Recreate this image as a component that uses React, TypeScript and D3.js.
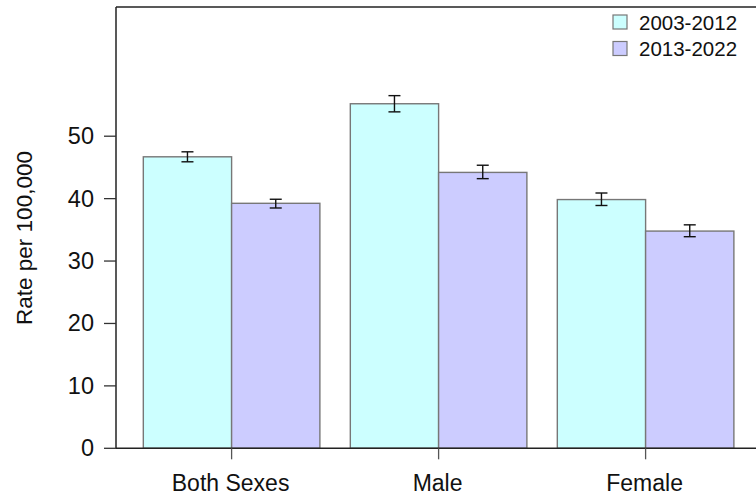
import React from "react";
import * as d3 from "d3";

const categories = ["Both Sexes", "Male", "Female"];
const seriesNames = ["2003-2012", "2013-2022"];
const seriesColors = ["#CCFFFF", "#CCCCFF"];
const rates2003 = [46.7, 55.2, 39.85];
const lower2003 = [45.9, 53.9, 38.9];
const upper2003 = [47.5, 56.5, 40.9];
const rates2013 = [39.25, 44.2, 34.8];
const lower2013 = [38.5, 43.2, 33.9];
const upper2013 = [39.9, 45.35, 35.8];
const yTicks = [0, 10, 20, 30, 40, 50];
const yMax = 70.7;

const W = 756;
const H = 499;
const FONT = "'Liberation Sans', Arial, Helvetica, sans-serif";

export default function App() {
  const left = 116;
  const top = 7;
  const bottom = 448.3;

  const y = d3.scaleLinear().domain([0, yMax]).range([bottom, top]);
  const x0 = d3
    .scaleBand<string>()
    .domain(categories)
    .range([128.1, 749.1])
    .paddingInner(0.147)
    .paddingOuter(0.0735);
  const x1 = d3
    .scaleBand<string>()
    .domain(seriesNames)
    .range([0, x0.bandwidth()])
    .padding(0);

  const series = [
    { name: seriesNames[0], vals: rates2003, lo: lower2003, hi: upper2003, color: seriesColors[0] },
    { name: seriesNames[1], vals: rates2013, lo: lower2013, hi: upper2013, color: seriesColors[1] },
  ];

  const capHalf = 6;

  return (
    <svg
      width={W}
      height={H}
      style={{ position: "absolute", left: 0, top: 0, background: "#fff" }}
      fontFamily={FONT}
    >
      {/* bars */}
      {categories.map((c, i) =>
        series.map((s) => {
          const bx = (x0(c) ?? 0) + (x1(s.name) ?? 0);
          const bw = x1.bandwidth();
          return (
            <rect
              key={c + s.name}
              x={bx}
              y={y(s.vals[i])}
              width={bw}
              height={y(0) - y(s.vals[i])}
              fill={s.color}
              stroke="#777"
              strokeWidth={1.4}
            />
          );
        })
      )}
      {/* error bars */}
      {categories.map((c, i) =>
        series.map((s) => {
          const cx = (x0(c) ?? 0) + (x1(s.name) ?? 0) + x1.bandwidth() / 2;
          return (
            <g key={"e" + c + s.name} stroke="#111" strokeWidth={1.4}>
              <line x1={cx} x2={cx} y1={y(s.lo[i])} y2={y(s.hi[i])} />
              <line x1={cx - capHalf} x2={cx + capHalf} y1={y(s.hi[i])} y2={y(s.hi[i])} />
              <line x1={cx - capHalf} x2={cx + capHalf} y1={y(s.lo[i])} y2={y(s.lo[i])} />
            </g>
          );
        })
      )}
      {/* frame */}
      <line x1={left} x2={W} y1={top} y2={top} stroke="#222" strokeWidth={1.5} />
      <line x1={left} x2={left} y1={top} y2={bottom} stroke="#222" strokeWidth={1.5} />
      <line x1={left} x2={W} y1={bottom} y2={bottom} stroke="#222" strokeWidth={1.5} />
      {/* y ticks */}
      {yTicks.map((t) => (
        <g key={"yt" + t}>
          <line x1={left - 12} x2={left} y1={y(t)} y2={y(t)} stroke="#333" strokeWidth={1.3} />
          <text
            x={94}
            y={y(t)}
            textAnchor="end"
            dominantBaseline="central"
            fontSize={23.5}
            fill="#111"
          >
            {t}
          </text>
        </g>
      ))}
      {/* x ticks */}
      {categories.map((c) => {
        const cx = (x0(c) ?? 0) + x0.bandwidth() / 2;
        return (
          <g key={"xt" + c}>
            <line x1={cx} x2={cx} y1={bottom} y2={bottom + 11} stroke="#555" strokeWidth={1.3} />
            <text x={cx - 1} y={491} textAnchor="middle" fontSize={23} fill="#111">
              {c}
            </text>
          </g>
        );
      })}
      {/* y title */}
      <text
        transform={`translate(32, 238) rotate(-90)`}
        textAnchor="middle"
        fontSize={22.5}
        fill="#111"
      >
        Rate per 100,000
      </text>
      {/* legend */}
      {series.map((s, i) => (
        <g key={"lg" + s.name}>
          <rect
            x={613}
            y={15 + i * 26.5}
            width={14}
            height={14}
            fill={s.color}
            stroke="#777"
            strokeWidth={1.2}
          />
          <text x={639} y={22 + i * 26.5} dominantBaseline="central" fontSize={20.5} fill="#111">
            {s.name}
          </text>
        </g>
      ))}
    </svg>
  );
}
